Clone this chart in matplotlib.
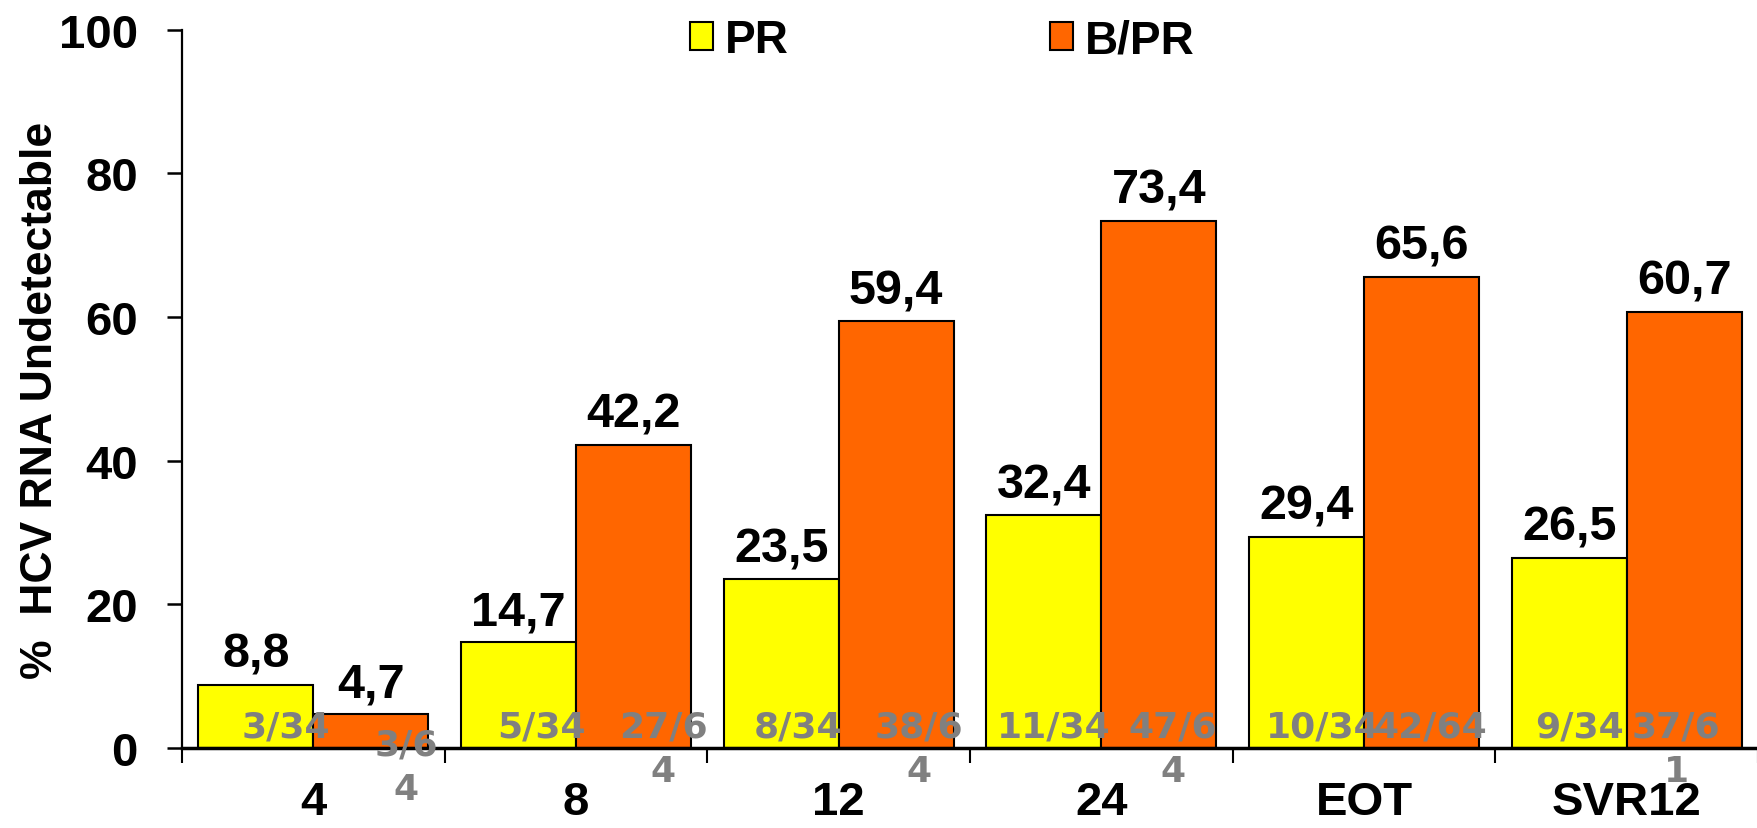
import numpy as np
import matplotlib.pyplot as plt
from matplotlib.patches import Patch

# weeks on treatment and share of patients with undetectable HCV RNA
weeks = ["4", "8", "12", "24", "EOT", "SVR12"]
pr_pct = [8.8, 14.7, 23.5, 32.4, 29.4, 26.5]
bpr_pct = [4.7, 42.2, 59.4, 73.4, 65.6, 60.7]
pr_resp = [3, 5, 8, 11, 10, 9]
pr_total = [34, 34, 34, 34, 34, 34]
bpr_resp = [3, 27, 38, 47, 42, 37]
bpr_total = [64, 64, 64, 64, 64, 61]

# placement of the n/N captions (group units / data units)
pr_frac_dx = [0.116, 0.086, 0.063, 0.036, 0.061, 0.038]
bpr_frac_dx = [0.135, 0.114, 0.086, 0.053, 0.034, -0.03]
bpr_frac_dy = [-2.4, 0, 0, 0, 0, 0]
bpr_wrap = [True, True, True, True, False, True]

YELLOW = "#FFFF00"
ORANGE = "#FF6600"
GREY = "#808080"
BOLD = "Liberation Sans"
FRAC = dict(fontsize=26, fontweight="bold", family="DejaVu Sans", color=GREY,
            ha="center", va="baseline", zorder=5)

fig = plt.figure(figsize=(17.58, 8.29), dpi=100)
ax = fig.add_axes([182 / 1758, 80 / 829, 1 - 182 / 1758, 718.5 / 829])

x = np.arange(len(weeks)) + 0.5
w = 0.4375
ax.bar(x - w / 2, pr_pct, w, color=YELLOW, edgecolor="black", linewidth=1.5, zorder=2)
ax.bar(x + w / 2, bpr_pct, w, color=ORANGE, edgecolor="black", linewidth=1.5, zorder=2)

# value labels above bars
for xs, vals in ((x - w / 2, pr_pct), (x + w / 2, bpr_pct)):
    for xi, v in zip(xs, vals):
        ax.annotate(f"{v:.1f}".replace(".", ","), (xi, v), xytext=(0, 13),
                    textcoords="offset points", ha="center", va="baseline",
                    fontsize=35, fontweight="bold", family=BOLD, zorder=4)

# responders / patients captions near the bar bottoms
base = 1.55
for i in range(len(weeks)):
    ax.text(x[i] - w / 2 + pr_frac_dx[i], base, f"{pr_resp[i]}/{pr_total[i]}", **FRAC)
    s = f"{bpr_resp[i]}/{bpr_total[i]}"
    bx = x[i] + w / 2 + bpr_frac_dx[i]
    by = base + bpr_frac_dy[i]
    if bpr_wrap[i]:
        ax.text(bx, by, s[:-1], **FRAC)
        # last digit spills onto a second line
        ax.annotate(s[-1], (bx, by), xytext=(0, -32), textcoords="offset points",
                    annotation_clip=False, **FRAC)
    else:
        ax.text(bx, by, s, **FRAC)

ax.set_xlim(0, len(weeks))
ax.set_ylim(0, 100)
ax.set_yticks(np.arange(0, 101, 20))
ax.set_xticks(x)
ax.set_xticklabels(weeks)
ax.set_xticks(np.arange(len(weeks) + 1), minor=True)

for lab in ax.get_xticklabels() + ax.get_yticklabels():
    lab.set_fontsize(34)
    lab.set_fontweight("bold")
    lab.set_family(BOLD)

ax.tick_params(axis="x", which="major", length=0, pad=23)
ax.tick_params(axis="x", which="minor", length=10.8, width=1.5, direction="out")
ax.tick_params(axis="y", length=10.8, width=1.8, direction="out", pad=21)

ax.spines["top"].set_visible(False)
ax.spines["right"].set_visible(False)
ax.spines["bottom"].set_linewidth(2.5)
ax.spines["left"].set_linewidth(1.6)

ax.set_ylabel("%  HCV RNA Undetectable", fontsize=32, fontweight="bold", family=BOLD)
ax.yaxis.set_label_coords(-0.0768, 0.485)

handles = [Patch(facecolor=YELLOW, edgecolor="black", linewidth=1.5, label="PR"),
           Patch(facecolor=ORANGE, edgecolor="black", linewidth=1.5, label="B/PR")]
fig.legend(handles=handles, loc="upper left", bbox_to_anchor=(690 / 1758, 1 - 19 / 829),
           ncol=2, frameon=False, borderpad=0, borderaxespad=0,
           handlelength=0.5, handleheight=0.55, handletextpad=0.26, columnspacing=5.7,
           prop={"family": BOLD, "weight": "bold", "size": 33})

fig.savefig("out.png", dpi=100)
